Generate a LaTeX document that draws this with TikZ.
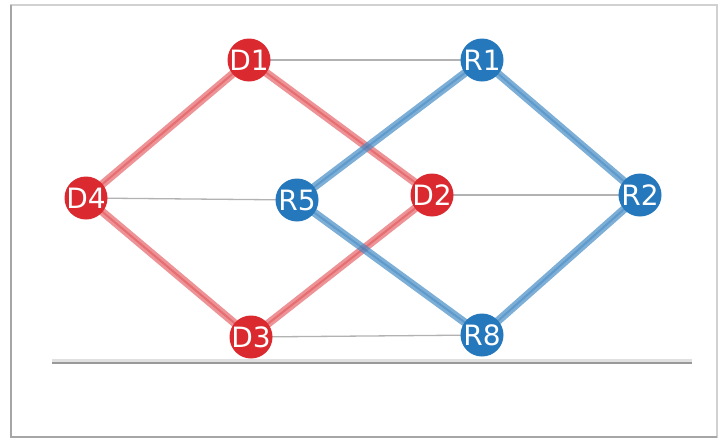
\documentclass[tikz,border=0pt]{standalone}
\usepackage{fontspec}
\usetikzlibrary{backgrounds}
\newfontfamily\lblfont{DejaVu Sans}
\definecolor{nred}{RGB}{218,42,48}
\definecolor{ered}{RGB}{230,100,105}
\definecolor{nblue}{RGB}{38,120,188}
\definecolor{eblue}{RGB}{70,140,198}
\begin{document}
\begin{tikzpicture}[x=1pt,y=-1pt,
  dotred/.style={circle,fill=nred,minimum size=43pt,inner sep=0pt},
  dotblue/.style={circle,fill=nblue,minimum size=43pt,inner sep=0pt},
  lbl/.style={text=white,font=\lblfont\fontsize{28}{28}\selectfont,inner sep=0pt},
  redge/.style={line width=8pt,draw=ered,opacity=0.7},
  redcore/.style={line width=2pt,draw=nred,opacity=0.35},
  bedge/.style={line width=8pt,draw=eblue,opacity=0.7},
  bcore/.style={line width=2pt,draw=nblue,opacity=0.35},
  thinedge/.style={line width=1.3pt,draw=black!30}]
\useasboundingbox (0,0) rectangle (723,440);
% node positions
\node[dotred,label={[lbl]center:D1}] (D1) at (249,60) {};
\node[dotblue,label={[lbl]center:R1}] (R1) at (482,60) {};
\node[dotred,label={[lbl]center:D4}] (D4) at (86,198) {};
\node[dotblue,label={[lbl]center:R5}] (R5) at (297,200) {};
\node[dotred,label={[lbl]center:D2}] (D2) at (432,195) {};
\node[dotblue,label={[lbl]center:R2}] (R2) at (640,195) {};
\node[dotred,label={[lbl]center:D3}] (D3) at (251,337) {};
\node[dotblue,label={[lbl]center:R8}] (R8) at (482,335) {};
\begin{scope}[on background layer]
\fill[white] (0,0) rectangle (723,440);
\draw[black!18,line width=1.5pt] (11,5) rectangle (717,437);
\draw[black!35,line width=1.5pt] (11,5) -- (11,437) -- (717,437);
\coordinate (L1) at (52,363);
\coordinate (L2) at (692,363);
\draw[black!12,line width=3pt] ([yshift=2.5pt]L1) -- ([yshift=2.5pt]L2);
\draw[black!40,line width=2.5pt] (L1) -- (L2);
% thin grey links
\draw[thinedge] (D1.center) -- (R1.center);
\draw[thinedge] (D4.center) -- (R5.center);
\draw[thinedge] (D2.center) -- (R2.center);
\draw[thinedge] (D3.center) -- (R8.center);
% red ring
\foreach \a/\b in {D1/D4,D1/D2,D4/D3,D3/D2}{
  \draw[redge] (\a.center) -- (\b.center);
  \draw[redcore] (\a.center) -- (\b.center);
}
% blue ring
\foreach \a/\b in {R1/R5,R1/R2,R5/R8,R8/R2}{
  \draw[bedge] (\a.center) -- (\b.center);
  \draw[bcore] (\a.center) -- (\b.center);
}
\end{scope}
\end{tikzpicture}
\end{document}
